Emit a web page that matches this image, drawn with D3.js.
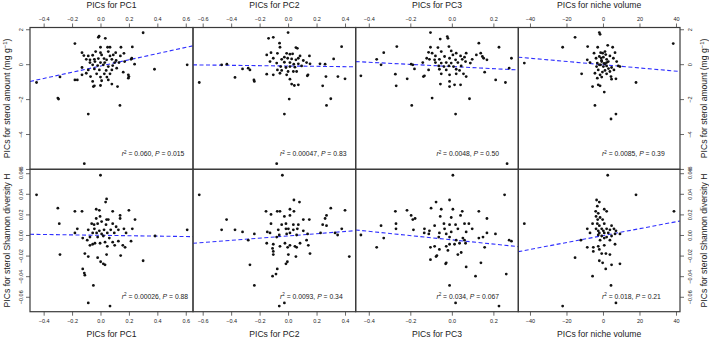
<!DOCTYPE html>
<html><head><meta charset="utf-8">
<script src="https://cdn.jsdelivr.net/npm/d3@7"></script>
<style>
body{margin:0;background:#fff}
svg{display:block}
text{font-family:"Liberation Sans",Arial,Helvetica,sans-serif;fill:#222}
</style>
</head><body>
<svg id="chart" width="709" height="340"></svg>
<script>
// ---------- DATA ----------
const xTitles = ["PICs for PC1","PICs for PC2","PICs for PC3","PICs for niche volume"];
const xTicks = [[-0.4,-0.2,0,0.2,0.4,0.6],[-0.6,-0.4,-0.2,0,0.2,0.4],[-0.4,-0.2,0,0.2],[-40,-20,0,20,40]];
const xDomains = [[-0.496,0.651],[-0.668,0.475],[-0.463,0.320],[-46.4,42.2]];
const yTitleAmount = "PICs for sterol amount (mg g";
const yTitleShannon = "PICs for sterol Shannon diversity H";
const yTicksAmount = [2,0,-2,-4,-6];
const yTicksShannon = [0.06,0.04,0.02,0,-0.02,-0.04,-0.06];
const yDomainAmount = [-6.02,2.1];
const yDomainShannon = [-0.0745,0.0638];
const r2Amount = ["0.060","0.00047","0.0048","0.0085"];
const pAmount = ["0.015","0.83","0.50","0.39"];
const r2Shannon = ["0.00026","0.0093","0.034","0.018"];
const pShannon = ["0.88","0.34","0.067","0.21"];
// fitted lines: [intercept, slope]
const fitAmount = [[-0.107,1.78],[-0.104,-0.096],[-0.135,-0.612],[-0.03,-0.00926]];
const fitShannon = [[-0.0003,-0.002],[-0.0009,0.01076],[-0.0047,-0.02066],[-0.0006,0.000336]];

const pc1Amount = [[0.30,1.80],[-0.18,1.18],[-0.015,1.54],[-0.01,1.60],[0.034,1.48],[0.0,0.97],[0.05,0.97],[0.067,0.97],[0.144,0.97],[0.224,0.99],[-0.13,0.66],[-0.034,0.72],[0.0,0.66],[0.055,0.72],[0.107,0.66],[0.165,0.62],[-0.117,0.49],[-0.086,0.47],[-0.055,0.51],[0.008,0.53],[0.067,0.47],[0.09,0.53],[0.14,0.47],[-0.10,0.28],[-0.074,0.25],[-0.043,0.28],[-0.015,0.32],[0.025,0.32],[0.043,0.25],[0.08,0.28],[0.11,0.21],[0.22,0.34],[-0.074,0.09],[-0.039,0.15],[0.0,0.09],[0.03,0.09],[0.10,0.09],[0.13,0.09],[0.17,0.15],[0.215,0.28],[0.24,0.0],[0.61,-0.04],[-0.055,-0.04],[-0.02,-0.08],[0.02,-0.04],[0.055,-0.14],[0.086,-0.08],[0.114,-0.23],[-0.13,-0.19],[-0.086,-0.33],[-0.043,-0.27],[-0.008,-0.33],[0.04,-0.36],[0.08,-0.33],[0.38,-0.29],[0.16,-0.46],[-0.10,-0.52],[-0.027,-0.55],[0.027,-0.55],[0.067,-0.55],[-0.13,-0.61],[0.196,-0.61],[-0.07,-0.71],[0.0,-0.74],[0.045,-0.74],[-0.285,-0.73],[0.196,-0.80],[0.2,-0.71],[-0.18,-0.90],[-0.163,-0.90],[-0.055,-0.99],[0.008,-0.95],[0.055,-0.90],[-0.45,-1.05],[0.08,-1.14],[-0.043,-1.24],[0.0,-1.22],[-0.05,-1.28],[0.12,-1.28],[-0.30,-1.94],[-0.295,-2.0],[0.137,-2.36],[-0.086,-2.86],[-0.114,-5.70]];

const pc2Amount = [[0.0,1.81],[-0.104,1.54],[-0.137,1.48],[-0.06,1.20],[-0.057,0.97],[0.055,0.95],[0.065,0.91],[0.376,1.0],[-0.12,0.66],[-0.075,0.62],[-0.01,0.62],[0.013,0.57],[0.032,0.59],[0.084,0.47],[0.15,0.47],[-0.15,0.53],[0.32,0.30],[-0.104,0.34],[-0.045,0.28],[-0.026,0.40],[-0.003,0.34],[0.025,0.30],[0.055,0.25],[0.072,0.34],[0.107,0.21],[0.154,0.02],[0.13,0.09],[0.224,0.02],[0.26,0.0],[-0.127,0.15],[-0.08,0.06],[-0.026,0.11],[0.013,0.09],[0.04,0.0],[0.072,0.02],[-0.467,-0.04],[-0.43,0.0],[-0.32,-0.27],[-0.28,-0.23],[-0.268,-0.33],[-0.052,-0.14],[-0.015,-0.19],[0.013,-0.14],[0.048,-0.17],[0.095,-0.10],[-0.075,-0.33],[-0.045,-0.36],[0.0,-0.42],[0.037,-0.42],[0.06,-0.42],[-0.15,-0.57],[-0.104,-0.61],[-0.057,-0.52],[-0.01,-0.61],[0.135,-0.67],[0.14,-0.61],[0.266,-0.71],[0.35,-0.71],[-0.373,-0.76],[0.40,-0.84],[-0.24,-0.90],[-0.237,-0.99],[0.013,-0.86],[0.025,-1.14],[0.044,-1.22],[0.072,-1.18],[-0.624,-1.05],[0.243,-1.24],[0.30,-1.98],[0.008,-2.0],[0.27,-2.36],[-0.026,-2.86],[-0.08,-5.70]];

const pc3Amount = [[-0.103,1.81],[-0.022,1.58],[-0.019,1.48],[-0.056,1.44],[-0.265,1.01],[-0.103,0.97],[-0.067,0.95],[-0.014,1.01],[0.13,1.20],[0.227,0.97],[-0.328,0.66],[-0.112,0.68],[-0.095,0.63],[-0.051,0.72],[-0.003,0.76],[0.021,0.63],[0.069,0.63],[0.118,0.53],[0.139,0.63],[-0.079,0.47],[-0.035,0.44],[0.005,0.53],[0.042,0.47],[0.061,0.40],[0.147,0.44],[-0.121,0.34],[-0.108,0.28],[-0.083,0.25],[-0.06,0.28],[-0.011,0.34],[0.018,0.25],[0.05,0.28],[0.098,0.28],[0.153,0.34],[0.169,0.25],[0.287,0.34],[-0.362,0.28],[-0.14,0.09],[-0.079,0.09],[-0.051,0.06],[-0.027,0.09],[-0.003,0.06],[0.029,0.09],[0.066,0.15],[0.089,0.06],[-0.341,-0.04],[-0.196,0.0],[-0.188,-0.04],[-0.063,-0.10],[-0.038,-0.14],[-0.014,-0.10],[0.008,-0.14],[0.045,-0.10],[-0.18,-0.27],[-0.112,-0.33],[-0.06,-0.29],[-0.027,-0.33],[0.021,-0.29],[0.037,-0.36],[0.158,-0.46],[0.276,-0.23],[-0.272,-0.57],[-0.137,-0.71],[-0.132,-0.67],[-0.051,-0.55],[-0.011,-0.61],[0.021,-0.55],[0.056,-0.55],[0.069,-0.71],[-0.438,-0.67],[-0.215,-0.84],[0.211,-0.90],[-0.011,-0.99],[-0.055,-1.14],[-0.011,-1.28],[0.013,-1.18],[0.042,-1.18],[-0.268,-1.24],[0.258,-1.05],[-0.095,-1.94],[0.085,-1.98],[-0.193,-2.36],[0.018,-2.86],[0.266,-5.70]];

const nicheAmount = [[-2.0,1.81],[-1.6,1.71],[-15.3,1.54],[38.5,1.18],[-22.1,0.97],[-8.4,1.01],[-2.9,0.97],[2.6,1.08],[5.3,0.97],[-4.9,0.63],[-1.3,0.66],[-0.2,0.63],[1.1,0.72],[6.6,0.66],[-8.6,0.25],[-3.8,0.34],[-2.0,0.44],[0.2,0.40],[2.0,0.28],[3.8,0.47],[5.7,0.34],[7.5,0.15],[-7.1,0.09],[-3.1,0.06],[-0.7,0.15],[1.1,0.02],[2.9,0.15],[8.4,-0.10],[9.3,-0.14],[-43.1,0.06],[-3.5,-0.14],[-1.3,-0.04],[0.2,-0.14],[2.0,-0.10],[4.7,-0.19],[-2.6,-0.33],[1.1,-0.36],[3.8,-0.42],[6.0,-0.33],[-11.7,-0.55],[-4.4,-0.52],[-1.6,-0.61],[2.0,-0.55],[4.4,-0.71],[7.1,-0.84],[-3.1,-0.80],[-0.7,-0.74],[4.7,-0.86],[18.1,-1.05],[-2.6,-1.18],[-1.6,-1.24],[-5.7,-1.28],[0.7,-1.60],[-4.4,-2.36],[7.1,-2.86],[4.4,-3.14],[-0.8,0.22],[0.6,0.05],[2.0,0.09],[-2.0,-0.04],[1.5,0.55],[-1.0,0.35],[3.0,-0.25],[-0.3,-0.45]];

const pc1Shannon = [[0.0,0.058],[-0.45,0.039],[0.043,0.035],[0.036,0.032],[-0.30,0.026],[-0.18,0.023],[-0.13,0.023],[-0.03,0.025],[-0.008,0.024],[0.086,0.023],[0.20,0.024],[-0.29,0.011],[0.138,0.019],[-0.03,0.016],[-0.003,0.018],[0.043,0.015],[0.055,0.015],[0.138,0.016],[0.243,0.015],[-0.062,0.011],[-0.045,0.010],[-0.02,0.011],[0.008,0.013],[0.039,0.010],[0.086,0.011],[0.11,0.008],[0.165,0.006],[0.224,0.006],[-0.163,0.006],[-0.086,0.005],[-0.043,0.006],[-0.008,0.004],[0.025,0.005],[0.072,0.005],[0.126,0.005],[0.61,0.005],[-0.18,0.002],[-0.055,0.002],[-0.027,0.002],[0.008,0.001],[0.048,0.002],[0.097,0.002],[0.18,0.002],[0.384,-0.001],[-0.125,-0.003],[-0.074,-0.002],[-0.02,-0.002],[0.02,-0.001],[0.062,-0.003],[-0.093,-0.005],[-0.039,-0.008],[-0.003,-0.008],[0.032,-0.007],[0.086,-0.007],[0.126,-0.006],[0.215,-0.006],[-0.055,-0.009],[0.10,-0.010],[0.157,-0.010],[-0.074,-0.010],[0.048,-0.011],[0.173,-0.012],[-0.11,-0.018],[-0.285,-0.019],[-0.086,-0.021],[-0.02,-0.022],[0.043,-0.019],[0.142,-0.020],[0.001,-0.026],[0.02,-0.028],[0.032,-0.029],[0.30,-0.025],[-0.125,-0.033],[-0.114,-0.037],[-0.11,-0.039],[-0.05,-0.049],[-0.086,-0.066],[0.067,-0.069]];

const pc2Shannon = [[-0.04,0.058],[-0.624,0.039],[0.041,0.034],[0.08,0.032],[0.30,0.026],[0.013,0.025],[0.40,0.024],[-0.155,0.023],[-0.076,0.023],[-0.057,0.023],[0.041,0.023],[-0.432,0.015],[-0.12,0.020],[-0.026,0.018],[0.013,0.019],[0.27,0.019],[0.107,0.015],[0.149,0.015],[0.26,0.016],[-0.467,0.005],[-0.373,0.005],[-0.12,0.011],[-0.045,0.010],[-0.015,0.011],[0.037,0.010],[0.072,0.010],[0.243,0.010],[0.27,0.009],[-0.32,0.003],[-0.237,0.001],[-0.28,-0.005],[-0.146,0.003],[-0.127,0.002],[-0.069,0.005],[-0.015,0.006],[0.002,0.006],[0.037,0.005],[0.065,0.006],[0.107,0.004],[0.137,0.001],[0.228,0.002],[0.33,0.002],[0.377,0.006],[0.348,0.0],[-0.08,-0.002],[-0.062,0.0],[-0.01,0.001],[0.013,0.002],[0.06,0.0],[0.13,-0.005],[-0.15,-0.008],[-0.104,-0.009],[-0.057,-0.011],[-0.022,-0.008],[0.013,-0.010],[0.048,-0.011],[0.084,-0.008],[0.142,-0.010],[-0.109,-0.013],[-0.104,-0.016],[-0.003,-0.012],[0.06,-0.012],[0.154,-0.018],[0.002,-0.019],[-0.104,-0.019],[0.055,-0.021],[0.43,-0.021],[-0.005,-0.026],[-0.015,-0.028],[-0.268,-0.029],[-0.076,-0.033],[-0.085,-0.038],[-0.109,-0.040],[-0.237,-0.049],[-0.026,-0.066],[-0.062,-0.069]];

const pc3Shannon = [[0.005,0.058],[0.254,0.039],[-0.076,0.032],[-0.011,0.034],[-0.272,0.023],[-0.216,0.024],[-0.10,0.026],[-0.051,0.025],[0.005,0.025],[0.05,0.023],[0.13,0.023],[-0.196,0.019],[-0.188,0.015],[-0.177,0.016],[-0.056,0.018],[-0.003,0.017],[0.042,0.019],[0.169,0.016],[-0.341,0.009],[-0.269,0.011],[-0.269,0.006],[-0.185,0.005],[-0.132,0.006],[-0.083,0.009],[-0.038,0.011],[-0.011,0.010],[0.018,0.010],[0.061,0.011],[0.082,0.011],[0.098,0.006],[0.169,0.002],[-0.438,0.0],[-0.328,-0.003],[-0.133,0.002],[-0.108,0.004],[-0.111,0.001],[-0.06,0.002],[-0.035,0.006],[-0.027,0.001],[-0.003,0.003],[0.029,0.006],[0.053,-0.003],[0.069,0.003],[0.13,-0.003],[0.15,-0.002],[0.21,0.001],[0.276,-0.005],[0.287,-0.006],[-0.063,-0.002],[-0.011,-0.002],[0.021,-0.005],[0.061,-0.005],[0.066,-0.008],[-0.103,-0.012],[-0.083,-0.011],[-0.027,-0.011],[-0.011,-0.009],[0.013,-0.009],[0.037,-0.008],[-0.362,-0.012],[-0.076,-0.021],[-0.072,-0.020],[-0.103,-0.024],[-0.06,-0.014],[-0.019,-0.015],[0.029,-0.019],[0.045,-0.017],[0.158,-0.012],[-0.03,-0.028],[-0.027,-0.027],[0.069,-0.031],[0.14,-0.027],[0.262,-0.038],[0.114,-0.040],[-0.011,-0.049],[0.018,-0.066],[0.227,-0.069]];

const nicheShannon = [[2.6,0.058],[18.1,0.039],[-3.5,0.034],[-2.0,0.032],[38.9,0.023],[-3.1,0.028],[0.7,0.025],[2.0,0.023],[-4.0,0.023],[-2.6,0.021],[-3.8,0.018],[-1.6,0.017],[-2.9,0.015],[-0.2,0.015],[-5.7,0.011],[-43.1,0.011],[-3.1,0.011],[0.7,0.011],[-2.0,0.009],[4.7,0.009],[-8.6,0.006],[-3.8,0.006],[-0.7,0.006],[2.0,0.006],[6.0,0.006],[-2.6,0.004],[0.2,0.004],[3.8,0.005],[7.1,0.004],[-7.1,0.002],[-2.0,0.002],[0.7,0.002],[2.9,0.002],[9.3,0.001],[-12.1,-0.005],[-2.6,0.0],[-0.7,-0.001],[2.0,-0.002],[4.7,-0.001],[6.6,0.001],[-1.6,-0.005],[0.7,-0.003],[3.8,-0.005],[6.6,-0.009],[-8.6,-0.012],[-5.3,-0.012],[-2.6,-0.011],[0.7,-0.010],[-2.0,-0.014],[-5.3,-0.016],[1.6,-0.018],[-0.7,-0.018],[-15.3,-0.022],[3.8,-0.019],[-2.0,-0.025],[-0.2,-0.027],[4.7,-0.029],[9.3,-0.028],[1.5,-0.033],[-5.7,-0.040],[4.4,-0.049],[7.1,-0.066],[-22.1,-0.069]];

const pointsAmount = [pc1Amount,pc2Amount,pc3Amount,nicheAmount];
const pointsShannon = [pc1Shannon,pc2Shannon,pc3Shannon,nicheShannon];

// ---------- LAYOUT ----------
const colEdges = [30,193,355.7,518.3,680];
const rowEdges = [27.5,169.3,311.7];
const annotOffset = [91.7,87,80.7,83.7];
const svg = d3.select("#chart");
const fmtX = [d3.format(".1f"),d3.format(".1f"),d3.format(".1f"),d3.format("d")];

const rows = [
  {pts:pointsAmount, fit:fitAmount, r2:r2Amount, p:pAmount, dom:yDomainAmount, ticks:yTicksAmount, fmt:d3.format("d")},
  {pts:pointsShannon, fit:fitShannon, r2:r2Shannon, p:pShannon, dom:yDomainShannon, ticks:yTicksShannon, fmt:d3.format(".2f")}
];

rows.forEach((row, ri) => {
  const y0 = rowEdges[ri], y1 = rowEdges[ri+1];
  const y = d3.scaleLinear().domain(row.dom).range([y1, y0]);
  for (let ci = 0; ci < 4; ci++) {
    const x0 = colEdges[ci], x1 = colEdges[ci+1];
    const x = d3.scaleLinear().domain(xDomains[ci]).range([x0, x1]);
    const g = svg.append("g");
    const [a,b] = row.fit[ci];
    const dom = xDomains[ci];
    g.append("line")
      .attr("x1", x(dom[0])).attr("y1", y(a + b*dom[0]))
      .attr("x2", x(dom[1])).attr("y2", y(a + b*dom[1]))
      .attr("stroke","#2f2fff").attr("stroke-width",1.1)
      .attr("stroke-dasharray","4,2.5");
    g.selectAll("circle").data(row.pts[ci]).join("circle")
      .attr("cx", d => x(d[0])).attr("cy", d => y(d[1]))
      .attr("r", 1.4).attr("fill", "#111");
    g.append("rect").attr("x", x0).attr("y", y0).attr("width", x1-x0).attr("height", y1-y0)
      .attr("fill","none").attr("stroke","#3a3a3a").attr("stroke-width",1.2);
    const t = g.append("text").attr("x", x0 + annotOffset[ci]).attr("y", y1 - 13)
      .attr("font-size", 6.8);
    t.append("tspan").attr("font-style","italic").text("r");
    t.append("tspan").attr("font-size",4.6).attr("dy",-2.6).text("2");
    t.append("tspan").attr("dy",2.6).text(" = " + row.r2[ci] + ", ");
    t.append("tspan").attr("font-style","italic").text("P");
    t.append("tspan").text(" = " + row.p[ci]);

    if (ri === 0) {
      const ax = d3.axisTop(x).tickValues(xTicks[ci]).tickFormat(fmtX[ci]).tickSizeOuter(0).tickSize(4).tickPadding(3);
      const axg = g.append("g").attr("transform", `translate(0,${y0})`).call(ax);
      styleAxis(axg);
      g.append("text").attr("x", (x0+x1)/2).attr("y", 7.8).attr("text-anchor","middle")
        .attr("font-size", 8.6).text(xTitles[ci]);
    } else {
      const ax = d3.axisBottom(x).tickValues(xTicks[ci]).tickFormat(fmtX[ci]).tickSizeOuter(0).tickSize(4).tickPadding(3);
      const axg = g.append("g").attr("transform", `translate(0,${y1})`).call(ax);
      styleAxis(axg);
      g.append("text").attr("x", (x0+x1)/2).attr("y", 336.5).attr("text-anchor","middle")
        .attr("font-size", 8.6).text(xTitles[ci]);
    }
    if (ci === 0 || ci === 3) {
      const left = ci === 0;
      const ax = (left ? d3.axisLeft(y) : d3.axisRight(y)).tickValues(row.ticks).tickFormat(row.fmt).tickSizeOuter(0).tickSize(4);
      const axg = g.append("g").attr("transform", `translate(${left ? x0 : x1},0)`).call(ax);
      styleAxis(axg);
      axg.selectAll(".tick text")
        .attr("x", null).attr("dy", null)
        .attr("text-anchor","middle")
        .attr("transform", `translate(${left ? -7.2 : 12},0) rotate(-90)`)
        .attr("y", 0);
      const cy = (y0+y1)/2;
      const tx = left ? 10 : 707;
      const title = g.append("text").attr("transform", `translate(${tx},${cy}) rotate(-90)`)
        .attr("text-anchor","middle").attr("font-size", 8.6);
      if (ri === 0) {
        title.append("tspan").text(yTitleAmount);
        title.append("tspan").attr("font-size",6).attr("dy",-3.2).text("\u22121");
        title.append("tspan").attr("dy",3.2).text(")");
      } else {
        title.text(yTitleShannon);
      }
    }
  }
});

function styleAxis(axg) {
  axg.select(".domain").remove();
  axg.selectAll(".tick line").attr("stroke","#444").attr("stroke-width",0.8);
  axg.selectAll(".tick text").attr("font-size",5.5).attr("fill","#333")
    .attr("font-family",'"Liberation Sans",Arial,sans-serif');
}
</script>
</body></html>
